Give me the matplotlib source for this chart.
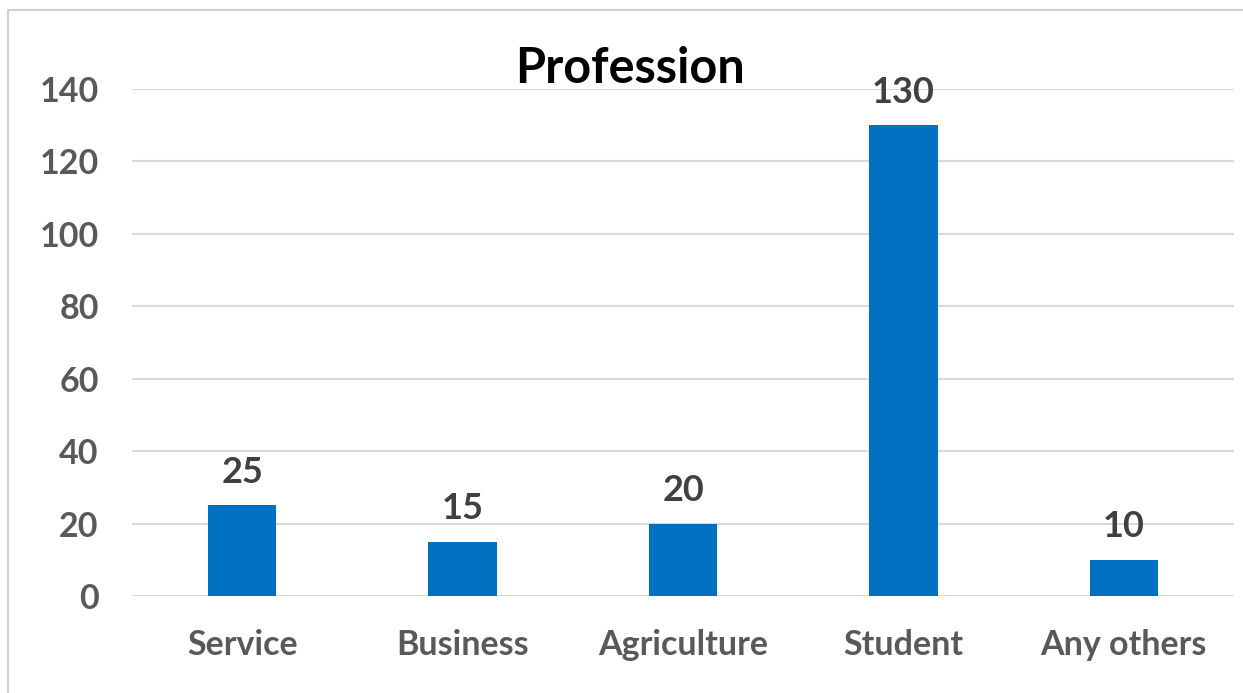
import matplotlib
matplotlib.use("Agg")
import matplotlib.pyplot as plt
from matplotlib.patches import Rectangle

# Respondents by profession
categories = ["Service", "Business", "Agriculture", "Student", "Any others"]
counts = [25, 15, 20, 130, 10]
yticks = [0, 20, 40, 60, 80, 100, 120, 140]

plt.rcParams["font.family"] = ["Lato", "DejaVu Sans"]

fig = plt.figure(figsize=(12.43, 6.93), dpi=100)
ax = fig.add_axes([132 / 1243, 1 - 596 / 693, (1234 - 132) / 1243, (596 - 89) / 693])

x = range(len(categories))
bars = ax.bar(x, counts, width=0.31, color="#0070C0", zorder=3)

for b, v in zip(bars, counts):
    ax.annotate(str(v), (b.get_x() + b.get_width() / 2, v), xytext=(0, 12),
                textcoords="offset points", ha="center", va="bottom",
                fontsize=26, fontweight="bold", color="#404040")

ax.set_xlim(-0.5, len(categories) - 0.5)
ax.set_ylim(0, 140)
ax.set_yticks(yticks)
ax.set_xticks(list(x))
ax.set_xticklabels(categories)
ax.tick_params(axis="both", length=0, labelsize=24.5, labelcolor="#595959")
ax.tick_params(axis="y", pad=24)
ax.tick_params(axis="x", pad=24)
for lbl in ax.get_xticklabels() + ax.get_yticklabels():
    lbl.set_fontweight("bold")

ax.grid(axis="y", color="#d9d9d9", linewidth=1.5, zorder=0)
for s in ax.spines.values():
    s.set_visible(False)

fig.text(630 / 1243, 1 - 83 / 693, "Profession", ha="center", va="baseline",
         fontsize=35, fontweight="bold", color="black")

# chart frame
fig.patches.append(Rectangle((8 / 1243, -0.05), 1.1, 1 - 10 / 693 + 0.05,
                             transform=fig.transFigure, fill=False,
                             edgecolor="#d0d0d0", linewidth=1.5))

fig.savefig("out.png", dpi=100)
